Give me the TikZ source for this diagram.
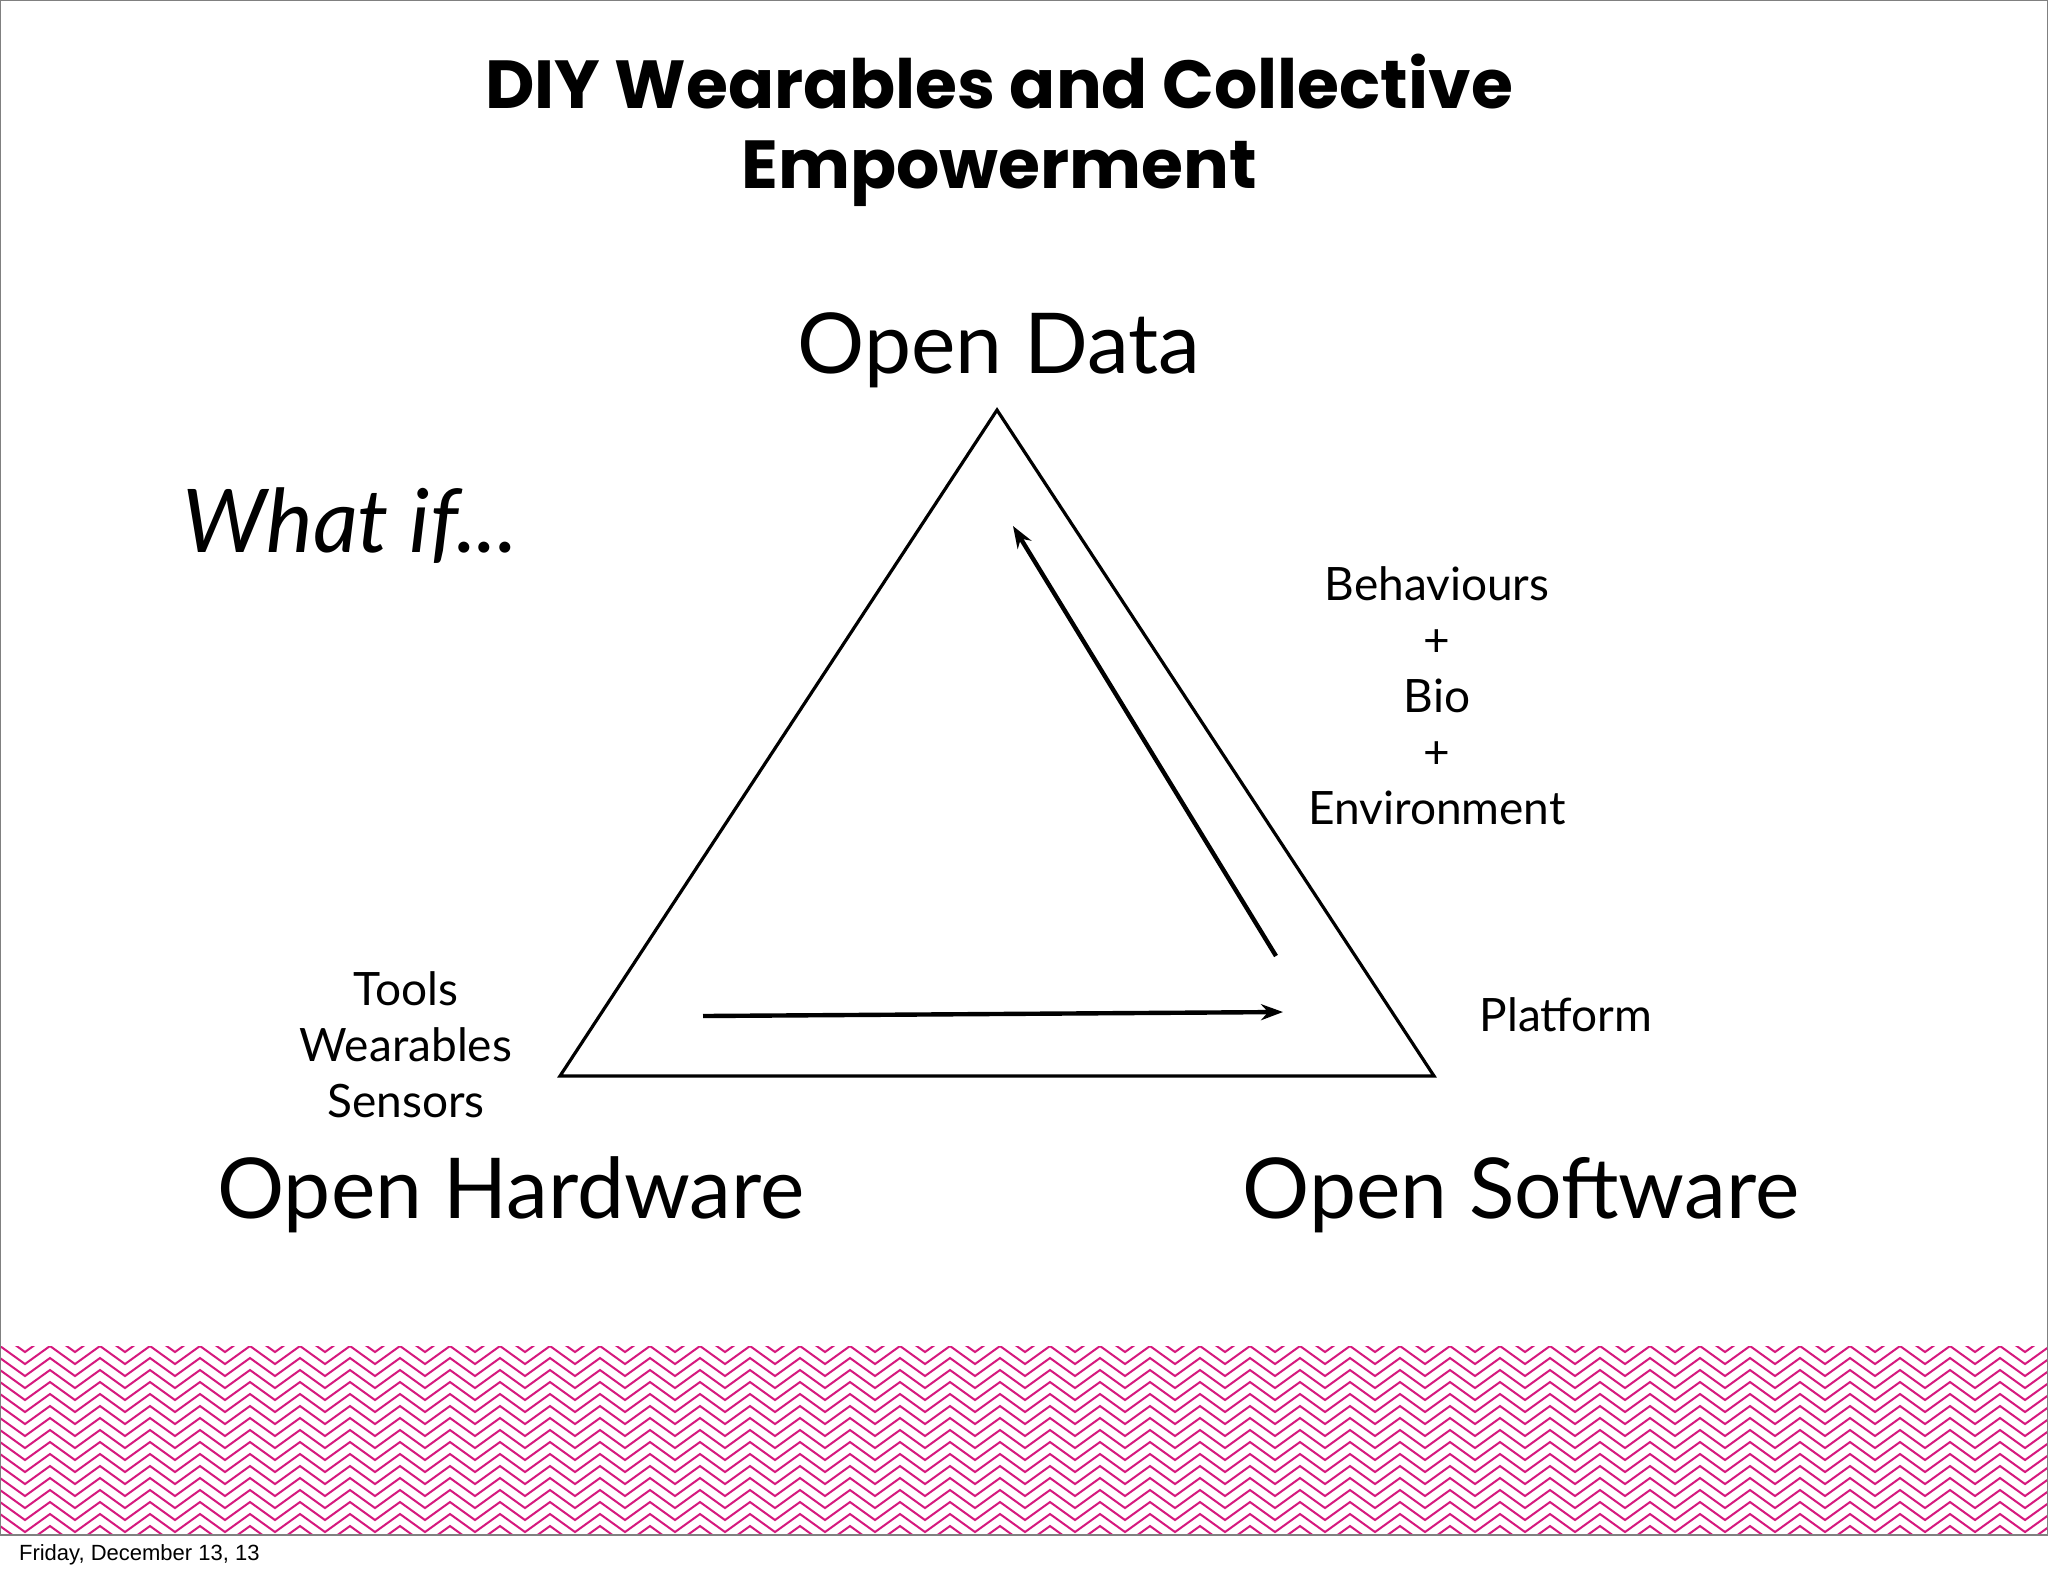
\documentclass[tikz,border=0pt]{standalone}
\usepackage{fontspec}
\setmainfont{Lato}
\newfontfamily\titlefont{Poppins}[BoldFont=* Bold]
\newfontfamily\footfont{Liberation Sans}
\usetikzlibrary{arrows.meta}
\definecolor{chev}{HTML}{D6197E}
\begin{document}
\begin{tikzpicture}[x=0.5pt,y=-0.5pt,
  big/.style={font=\fontsize{42}{48}\selectfont},
  small/.style={font=\fontsize{23}{28}\selectfont\addfontfeature{}},
  arr/.style={line width=2.2pt,-{Stealth[length=11pt,width=8pt]}}]
\useasboundingbox (0,0) rectangle (2048,1576);
\fill[white] (0,0) rectangle (2048,1576);
\begin{scope}
\clip (0,1346) rectangle (2048,1535);
\foreach \r in {0,...,20}
  \draw[chev,line width=1pt] (0,1322+12*\r) \foreach \i in {0,...,41} { -- ++(25,18) -- ++(25,-18) };
\end{scope}
\draw[gray,line width=0.6pt] (0,1535) -- (0,0) -- (2048,0) -- (2048,1535) -- (0,1535);
\node[font=\titlefont\bfseries\fontsize{34}{40}\selectfont,align=center] (title) at (999,130)
  {DIY Wearables and Collective\\Empowerment};
\coordinate (A) at (997,410);
\coordinate (B) at (560,1076);
\coordinate (C) at (1434,1076);
\draw[line width=1.6pt,line join=miter] (A) -- (B) -- (C) -- cycle;
\coordinate (a1s) at (703,1016); \coordinate (a1e) at (1283,1012);
\coordinate (a2s) at (1276,956); \coordinate (a2e) at (1013,526);
\draw[arr] (a1s) -- (a1e);
\draw[arr] (a2s) -- (a2e);
\node[big] (od) at (999,350) {Open Data};
\node[big] (oh) at (511,1195) {Open Hardware};
\node[big] (os) at (1521,1195) {Open Software};
\node[font=\fontsize{44}{48}\selectfont\itshape] (wi) at (350,526) {What if...};
\node[small,align=center,font=\fontsize{23}{28}\selectfont\linespread{1}] (beh) at (1437,696)
  {\fontsize{23}{27.8}\selectfont Behaviours\\+\\Bio\\+\\Environment};
\node[small,align=center] (tools) at (406,1045)
  {\fontsize{23}{27.8}\selectfont Tools\\Wearables\\Sensors};
\node[small] (plat) at (1566,1015) {Platform};
\node[anchor=west,font=\footfont\fontsize{11}{13}\selectfont] (foot) at (12,1555) {Friday, December 13, 13};
\end{tikzpicture}
\end{document}
